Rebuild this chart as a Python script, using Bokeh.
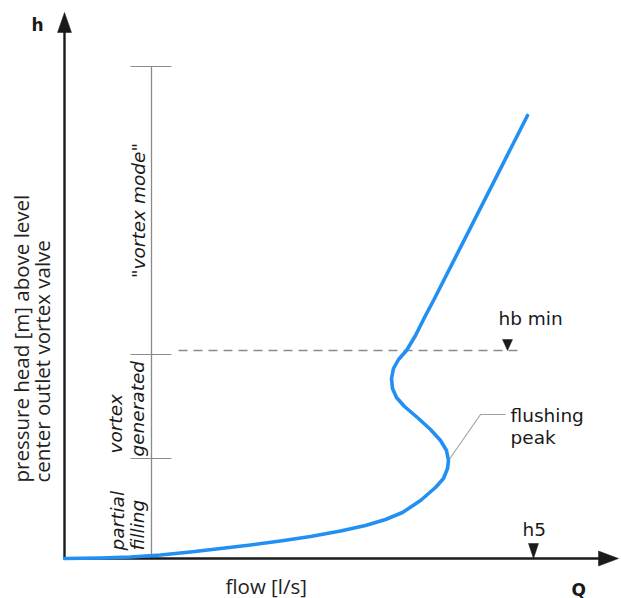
import math
from bokeh.plotting import figure
from bokeh.models import Range1d
from bokeh.core.properties import value
from bokeh.embed import file_html
from bokeh.resources import INLINE

# ---------------- data (schematic units) ----------------
flow_q = [0.00, 0.72, 1.32, 1.92, 2.52, 3.12, 3.72, 4.32, 4.92, 5.52, 6.02, 6.42, 6.76,
          7.12, 7.42, 7.58, 7.66, 7.68, 7.64, 7.52, 7.32, 7.08, 6.80, 6.64, 6.56, 6.54,
          6.58, 6.68, 6.84, 7.02, 7.21, 7.38, 9.26]
head_h = [0.00, 0.01, 0.03, 0.07, 0.13, 0.20, 0.27, 0.35, 0.44, 0.55, 0.66, 0.78, 0.92,
          1.16, 1.42, 1.60, 1.80, 1.96, 2.16, 2.36, 2.58, 2.80, 3.04, 3.22, 3.40, 3.60,
          3.80, 3.98, 4.16, 4.46, 4.84, 5.16, 8.86]

zone_bounds = [0.0, 2.0, 4.08, 9.84]        # partial filling | vortex generated | vortex mode
bracket_q = 1.74
hb_min_level = 4.16
hb_min_from, hb_min_to = 2.28, 9.08
hb_min_mark_q = 8.86
h5_q = 9.38
peak_q, peak_h = 7.68, 1.96
axis_q_max = 11.08
axis_h_max = 10.92

zone_lines = ["partial", "filling", "vortex", "generated", "\"vortex mode\""]
y_label_lines = ["pressure head [m] above level", "center outlet vortex valve"]

# ---------------- layout ----------------
PX = 50.0  # pixels per schematic unit
W, H = 621, 598
x0 = -64 / PX
y0 = -(H - 558) / PX
p = figure(width=W, height=H, output_backend="svg", toolbar_location=None,
           x_range=Range1d(x0, x0 + W / PX), y_range=Range1d(y0, y0 + H / PX),
           x_axis_type=None, y_axis_type=None, min_border=0)
p.outline_line_color = None
p.xgrid.visible = False
p.ygrid.visible = False
p.background_fill_color = "white"
p.border_fill_color = "white"

def d(px):
    return px / PX

AX = "#1a1a1a"
GRAY = "#8a8a8a"

# bracket with ticks
p.segment(x0=[bracket_q], y0=[zone_bounds[0]], x1=[bracket_q], y1=[zone_bounds[-1]],
          line_color=GRAY, line_width=1.3)
tb = zone_bounds[1:]
p.segment(x0=[bracket_q - d(21)] * len(tb), y0=tb, x1=[bracket_q + d(20)] * len(tb), y1=tb,
          line_color=GRAY, line_width=1.2)

# hb min dashed line
p.segment(x0=[hb_min_from], y0=[hb_min_level], x1=[hb_min_to], y1=[hb_min_level],
          line_color=GRAY, line_width=1.6, line_dash="9 6")

# axes (stems + arrow heads)
p.segment(x0=[0, 0], y0=[0, 0], x1=[0, axis_q_max - d(18)], y1=[axis_h_max - d(18), 0],
          line_color=AX, line_width=2.4)
heads_x = [[-d(7), 0, d(7)],
           [axis_q_max - d(20), axis_q_max, axis_q_max - d(20)]]
heads_y = [[axis_h_max - d(20), axis_h_max, axis_h_max - d(20)],
           [d(7.5), 0, -d(7.5)]]
# markers hb min and h5 (inverted triangles)
heads_x += [[hb_min_mark_q - d(5), hb_min_mark_q, hb_min_mark_q + d(5)],
            [h5_q - d(5), h5_q, h5_q + d(5)]]
heads_y += [[hb_min_level + d(11), hb_min_level, hb_min_level + d(11)],
            [d(15), 0, d(15)]]
p.patches(xs=heads_x, ys=heads_y, fill_color=AX, line_color=AX, line_width=0.5)

# leader line to flushing peak
p.line(x=[peak_q, peak_q + d(32), peak_q + d(57)], y=[peak_h, peak_h + d(46), peak_h + d(46)],
       line_color="#a0a0a0", line_width=1.1)

# curve
p.line(x=flow_q, y=head_h, line_color="#2190f2", line_width=3.6, line_join="round",
       line_cap="round")

# ---------------- texts ----------------
LBL = value("DejaVu Sans")
# rotated zone labels (italic)
zx = [d(117 - 64), d(137 - 64), d(115 - 64), d(137 - 64), d(138 - 64)]
zy = [d(558 - 550), d(558 - 550), d(558 - 453), d(558 - 456), (zone_bounds[2] + zone_bounds[3]) / 2]
p.text(x=zx[:4], y=zy[:4], text=zone_lines[:4], angle=math.pi / 2, text_align="left",
       text_baseline="middle", text_font=LBL, text_font_style="italic",
       text_font_size="18.5px", text_color="#1a1a1a")
p.text(x=zx[4:], y=zy[4:], text=zone_lines[4:], angle=math.pi / 2, text_align="center",
       text_baseline="middle", text_font=LBL, text_font_style="italic",
       text_font_size="18.5px", text_color="#1a1a1a")

# y axis label (two rotated lines)
p.text(x=[d(20 - 64), d(41 - 64)], y=[d(558 - 482)] * 2, text=y_label_lines,
       angle=math.pi / 2, text_align="left", text_baseline="middle",
       text_font=value("Open Sans"), text_font_size="20.5px", text_color="#222222")

# x axis label
p.text(x=[d(225 - 64)], y=[d(558 - 585)], text=["flow [l/s]"], text_align="left",
       text_baseline="alphabetic", text_font=value("Open Sans"), text_font_size="20.5px",
       text_color="#222222")

# axis names
p.text(x=[d(31 - 64), d(571 - 64)], y=[d(558 - 24), d(558 - 589)], text=["h", "Q"],
       text_align="left", text_baseline="alphabetic", text_font=LBL,
       text_font_style="bold", text_font_size="17px", text_color="#1a1a1a")

# annotations
p.text(x=[hb_min_mark_q - d(9), h5_q - d(11), peak_q + d(62), peak_q + d(62)],
       y=[hb_min_level + d(32), d(29), peak_h + d(45), peak_h + d(23)],
       text=["hb min", "h5", "flushing", "peak"], text_align="left",
       text_baseline="alphabetic", text_font=LBL, text_font_size="18.5px",
       text_color="#1a1a1a")

open("out.html", "w").write(file_html(p, INLINE))
